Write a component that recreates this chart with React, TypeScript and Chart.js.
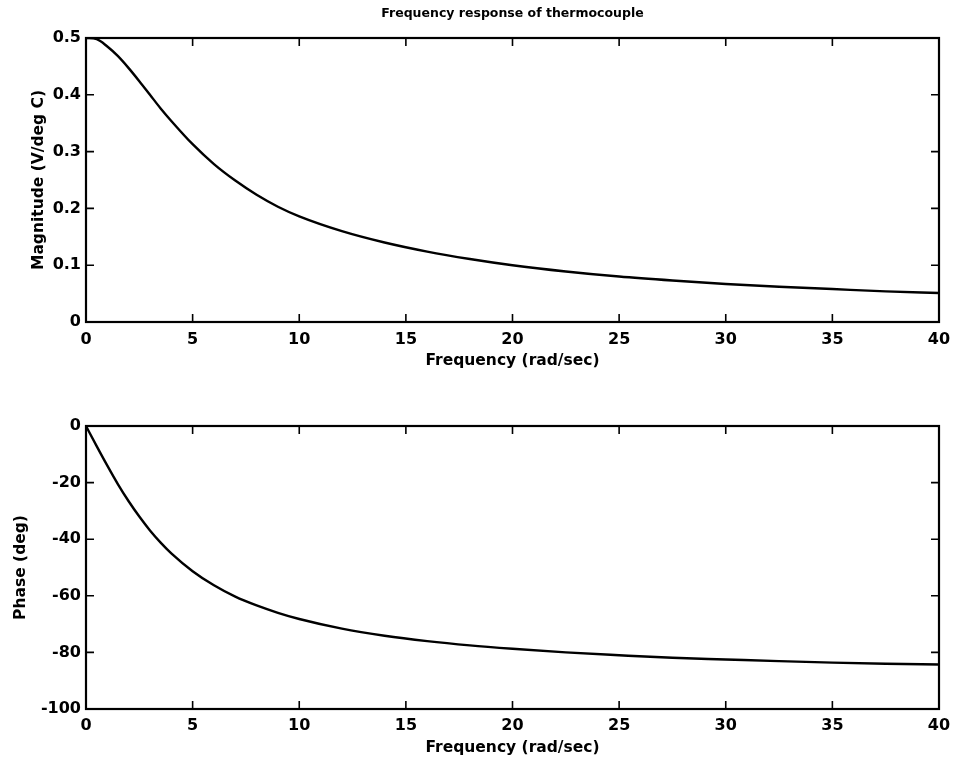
import { useEffect, useRef } from "react";
import { Chart, registerables } from "chart.js";

Chart.register(...registerables);

// Frequency points (rad/sec) at which the response was sampled
const frequency = [
  0, 0.5, 1, 1.5, 2, 2.5, 3, 3.5, 4, 5, 6, 7, 8, 9, 10, 12, 14, 16, 18, 20,
  22.5, 25, 27.5, 30, 32.5, 35, 37.5, 40,
];

// Magnitude of the thermocouple response (V/deg C)
const magnitude = [
  0.5, 0.498, 0.485, 0.468, 0.447, 0.424, 0.4, 0.376, 0.354, 0.313, 0.278,
  0.249, 0.224, 0.203, 0.186, 0.16, 0.14, 0.124, 0.111, 0.1, 0.089, 0.08,
  0.073, 0.067, 0.062, 0.058, 0.054, 0.051,
];

// Phase of the thermocouple response (deg)
const phase = [
  0, -7.1, -14, -20.6, -26.6, -32, -36.9, -41.2, -45, -51.3, -56.3, -60.3,
  -63.4, -66, -68.2, -71.6, -74.1, -76, -77.5, -78.7, -80, -81, -81.9, -82.5,
  -83.1, -83.6, -84, -84.3,
];

const frequencyTicks = [0, 5, 10, 15, 20, 25, 30, 35, 40];
const magnitudeTicks = [0, 0.1, 0.2, 0.3, 0.4, 0.5];
const phaseTicks = [-100, -80, -60, -40, -20, 0];

const FONT = "'DejaVu Sans', sans-serif";

// Black frame around the plot area with inward tick marks on all four sides
const framePlugin = {
  id: "frame",
  afterDatasetsDraw(chart: any) {
    const { ctx, chartArea, scales } = chart;
    const { left, right, top, bottom } = chartArea;
    const len = 8;
    ctx.save();
    ctx.strokeStyle = "#000";
    ctx.lineWidth = 1.6;
    ctx.beginPath();
    for (const t of scales.x.ticks) {
      const px = scales.x.getPixelForValue(t.value);
      ctx.moveTo(px, bottom);
      ctx.lineTo(px, bottom - len);
      ctx.moveTo(px, top);
      ctx.lineTo(px, top + len);
    }
    for (const t of scales.y.ticks) {
      const py = scales.y.getPixelForValue(t.value);
      ctx.moveTo(left, py);
      ctx.lineTo(left + len, py);
      ctx.moveTo(right, py);
      ctx.lineTo(right - len, py);
    }
    ctx.stroke();
    ctx.lineWidth = 2.2;
    ctx.strokeRect(left, top, right - left, bottom - top);
    ctx.restore();
  },
};

type PanelProps = {
  width: number;
  height: number;
  values: number[];
  yTicks: number[];
  yTitle: string;
  yTitleOffset: number;
  title?: string;
  topPad: number;
  xAxisHeight: number;
  xTickPad: number;
  xTitlePad: number;
};

function Panel(props: PanelProps) {
  const ref = useRef<HTMLCanvasElement | null>(null);

  useEffect(() => {
    const canvas = ref.current;
    if (!canvas) return;
    const {
      values, yTicks, yTitle, yTitleOffset, title, topPad,
      xAxisHeight, xTickPad, xTitlePad,
    } = props;

    const chart = new Chart(canvas, {
      type: "line",
      data: {
        datasets: [
          {
            data: frequency.map((f, i) => ({ x: f, y: values[i] })),
            borderColor: "#000",
            borderWidth: 2.4,
            pointRadius: 0,
            cubicInterpolationMode: "monotone",
            fill: false,
          },
        ],
      },
      options: {
        responsive: false,
        animation: false,
        devicePixelRatio: 1,
        layout: { padding: { left: 0, right: 20, top: topPad, bottom: 0 } },
        plugins: {
          legend: { display: false },
          tooltip: { enabled: false },
          title: {
            display: !!title,
            text: title || "",
            fullSize: false,
            color: "#000",
            font: { family: FONT, size: 12.5, weight: "bold", lineHeight: 1.2 },
            padding: { top: 6.5, bottom: 16.5 },
          },
        },
        scales: {
          x: {
            type: "linear",
            min: 0,
            max: 40,
            afterBuildTicks: (s: any) => {
              s.ticks = frequencyTicks.map((v) => ({ value: v }));
            },
            afterFit: (s: any) => {
              s.height = xAxisHeight;
            },
            grid: { display: false, drawTicks: false },
            border: { display: false },
            ticks: {
              color: "#000",
              padding: xTickPad,
              maxRotation: 0,
              font: { family: FONT, size: 16, weight: "bold", lineHeight: 1.2 },
            },
            title: {
              display: true,
              text: "Frequency (rad/sec)",
              color: "#000",
              font: { family: FONT, size: 15.5, weight: "bold", lineHeight: 1.2 },
              padding: { top: 0, bottom: xTitlePad },
            },
          },
          y: {
            type: "linear",
            min: yTicks[0],
            max: yTicks[yTicks.length - 1],
            afterBuildTicks: (s: any) => {
              s.ticks = yTicks.map((v) => ({ value: v }));
            },
            afterFit: (s: any) => {
              s.width = 86;
            },
            grid: { display: false, drawTicks: false },
            border: { display: false },
            ticks: {
              color: "#000",
              padding: 5,
              font: { family: FONT, size: 16, weight: "bold", lineHeight: 1.2 },
            },
            title: {
              display: true,
              text: yTitle,
              color: "#000",
              font: { family: FONT, size: 15.5, weight: "bold", lineHeight: 1.2 },
              padding: { top: yTitleOffset, bottom: 0 },
            },
          },
        },
      },
      plugins: [framePlugin],
    } as any);

    return () => chart.destroy();
  }, []);

  return (
    <canvas
      ref={ref}
      width={props.width}
      height={props.height}
      style={{ display: "block", width: props.width, height: props.height }}
    />
  );
}

export default function App() {
  return (
    <div
      style={{
        position: "absolute",
        left: 0,
        top: 0,
        width: 959,
        height: 763,
        background: "#fff",
      }}
    >
      <Panel
        width={959}
        height={380}
        values={magnitude}
        yTicks={magnitudeTicks}
        yTitle="Magnitude (V/deg C)"
        yTitleOffset={29.7}
        title="Frequency response of thermocouple"
        topPad={0}
        xAxisHeight={58}
        xTickPad={8.4}
        xTitlePad={9.7}
      />
      <Panel
        width={959}
        height={383}
        values={phase}
        yTicks={phaseTicks}
        yTitle="Phase (deg)"
        yTitleOffset={11.2}
        topPad={46}
        xAxisHeight={54}
        xTickPad={7.4}
        xTitlePad={5.7}
      />
    </div>
  );
}
